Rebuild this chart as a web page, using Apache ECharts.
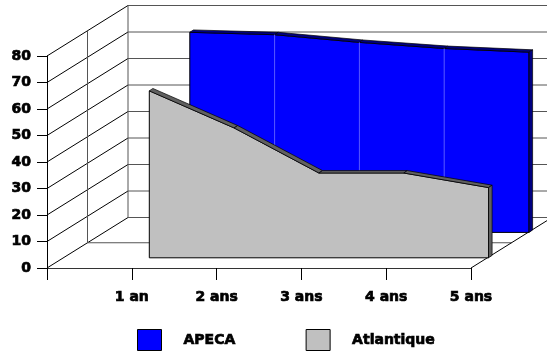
<!DOCTYPE html>
<html>
<head>
<meta charset="utf-8">
<script src="https://cdn.jsdelivr.net/npm/echarts@6/dist/echarts.min.js"></script>
<style>
  html, body { margin: 0; padding: 0; background: #fff; }
  #chart { width: 547px; height: 354px; }
</style>
</head>
<body>
<div id="chart"></div>
<script>
var categories = ['1 an', '2 ans', '3 ans', '4 ans', '5 ans'];
var apeca = [75.5, 74.6, 71.7, 69.4, 68];
var atlantique = [63, 49, 32, 32, 26.5];
var yTicks = [0, 10, 20, 30, 40, 50, 60, 70, 80];

// fausse profondeur 3D (en pixels)
var DEPTH = [81, -50.5];
var BLUE_OFF = [58, -35.6];
var GRAY_OFF = [17.5, -10.2];
var THICK = [3.6, -2.4];

var font = {
  fontFamily: 'DejaVu Sans', fontWeight: 'bold', fontSize: 14, color: '#000',
  textBorderColor: '#000', textBorderWidth: 0.7
};

function add (p, o) {
  return [p[0] + o[0], p[1] + o[1]];
}

function line (a, b, color, w) {
  return {
    type: 'line',
    shape: { x1: a[0], y1: a[1], x2: b[0], y2: b[1] },
    style: { stroke: color, lineWidth: w || 1 }
  };
}

// murs, sol et quadrillage
function renderFrame (params, api) {
  var last = categories.length;
  var p = function (i, v, d) {
    var c = api.coord([i, v]);
    return [c[0] + DEPTH[0] * d, c[1] + DEPTH[1] * d];
  };
  var top = yTicks[yTicks.length - 1];
  var children = [];
  yTicks.forEach(function (v) {
    children.push(line(p(0, v, 1), p(last, v, 1), '#555'));
    children.push(line(p(0, v, 0), p(0, v, 1), '#000'));
  });
  children.push(line(p(0, 0, 1), p(0, top, 1), '#555'));
  children.push(line(p(0, 0, 0.5), p(0, top, 0.5), '#555'));
  children.push(line(p(0, 0, 0.5), p(last, 0, 0.5), '#555'));
  children.push(line(p(last, 0, 0), p(last, 0, 1), '#000'));
  return { type: 'group', children: children };
}

function renderArea (vals, off, face, dark, seam) {
  return function (params, api) {
    var pt = function (i, v) {
      return add(api.coord([i + 1, v]), off);
    };
    var idx = params.dataIndex;
    var n = vals.length;
    if (idx > 0) {
      if (!seam || idx === n - 1) return null;
      return line(pt(idx, api.value(1)), pt(idx, 0), seam);
    }
    var tops = vals.map(function (v, i) { return pt(i, v); });
    var bl = pt(0, 0);
    var br = pt(n - 1, 0);
    var children = [];
    children.push({
      type: 'polygon',
      shape: { points: tops.concat([br, bl]) },
      style: { fill: face, stroke: '#000', lineWidth: 1 }
    });
    for (var k = 0; k < n - 1; k++) {
      children.push({
        type: 'polygon',
        shape: { points: [tops[k], tops[k + 1], add(tops[k + 1], THICK), add(tops[k], THICK)] },
        style: { fill: dark, stroke: '#000', lineWidth: 0.7 }
      });
    }
    var pl = tops[n - 1];
    children.push({
      type: 'polygon',
      shape: { points: [pl, add(pl, THICK), add(br, THICK), br] },
      style: { fill: dark, stroke: '#000', lineWidth: 0.7 }
    });
    return { type: 'group', children: children };
  };
}

var chart = echarts.init(document.getElementById('chart'));
var option = {
  animation: false,
  grid: { left: 47, right: 76, top: 56, bottom: 86 },
  xAxis: {
    type: 'category',
    data: [''].concat(categories),
    boundaryGap: false,
    axisLine: { lineStyle: { color: '#333' } },
    axisTick: { length: 12, interval: 0, lineStyle: { color: '#000' } },
    axisLabel: Object.assign({ margin: 22, interval: 0 }, font),
    splitLine: { show: false }
  },
  yAxis: {
    type: 'value',
    min: 0,
    max: 80,
    interval: 10,
    axisLine: { show: true, lineStyle: { color: '#000' } },
    axisTick: { show: true, length: 10, lineStyle: { color: '#000' } },
    axisLabel: Object.assign({ margin: 16 }, font),
    splitLine: { show: false }
  },
  legend: {
    left: 137,
    top: 329,
    padding: 0,
    itemWidth: 24,
    itemHeight: 21,
    itemGap: 70,
    textStyle: Object.assign({ padding: [0, 0, 0, 17] }, font),
    data: [
      { name: 'APECA', icon: 'rect', itemStyle: { color: '#0000ff', borderColor: '#000', borderWidth: 1 } },
      { name: 'Atlantique', icon: 'rect', itemStyle: { color: '#c0c0c0', borderColor: '#000', borderWidth: 1 } }
    ]
  },
  series: [
    {
      type: 'custom',
      name: 'frame',
      z: 1,
      silent: true,
      renderItem: renderFrame,
      data: [[0, 0]]
    },
    {
      type: 'custom',
      name: 'APECA',
      z: 2,
      itemStyle: { color: '#0000ff' },
      renderItem: renderArea(apeca, BLUE_OFF, '#0000ff', '#000080', '#5a5aff'),
      data: apeca.map(function (v, i) { return [i + 1, v]; })
    },
    {
      type: 'custom',
      name: 'Atlantique',
      z: 3,
      itemStyle: { color: '#c0c0c0' },
      renderItem: renderArea(atlantique, GRAY_OFF, '#c0c0c0', '#606060', null),
      data: atlantique.map(function (v, i) { return [i + 1, v]; })
    }
  ]
};
option && chart.setOption(option);
</script>
</body>
</html>
